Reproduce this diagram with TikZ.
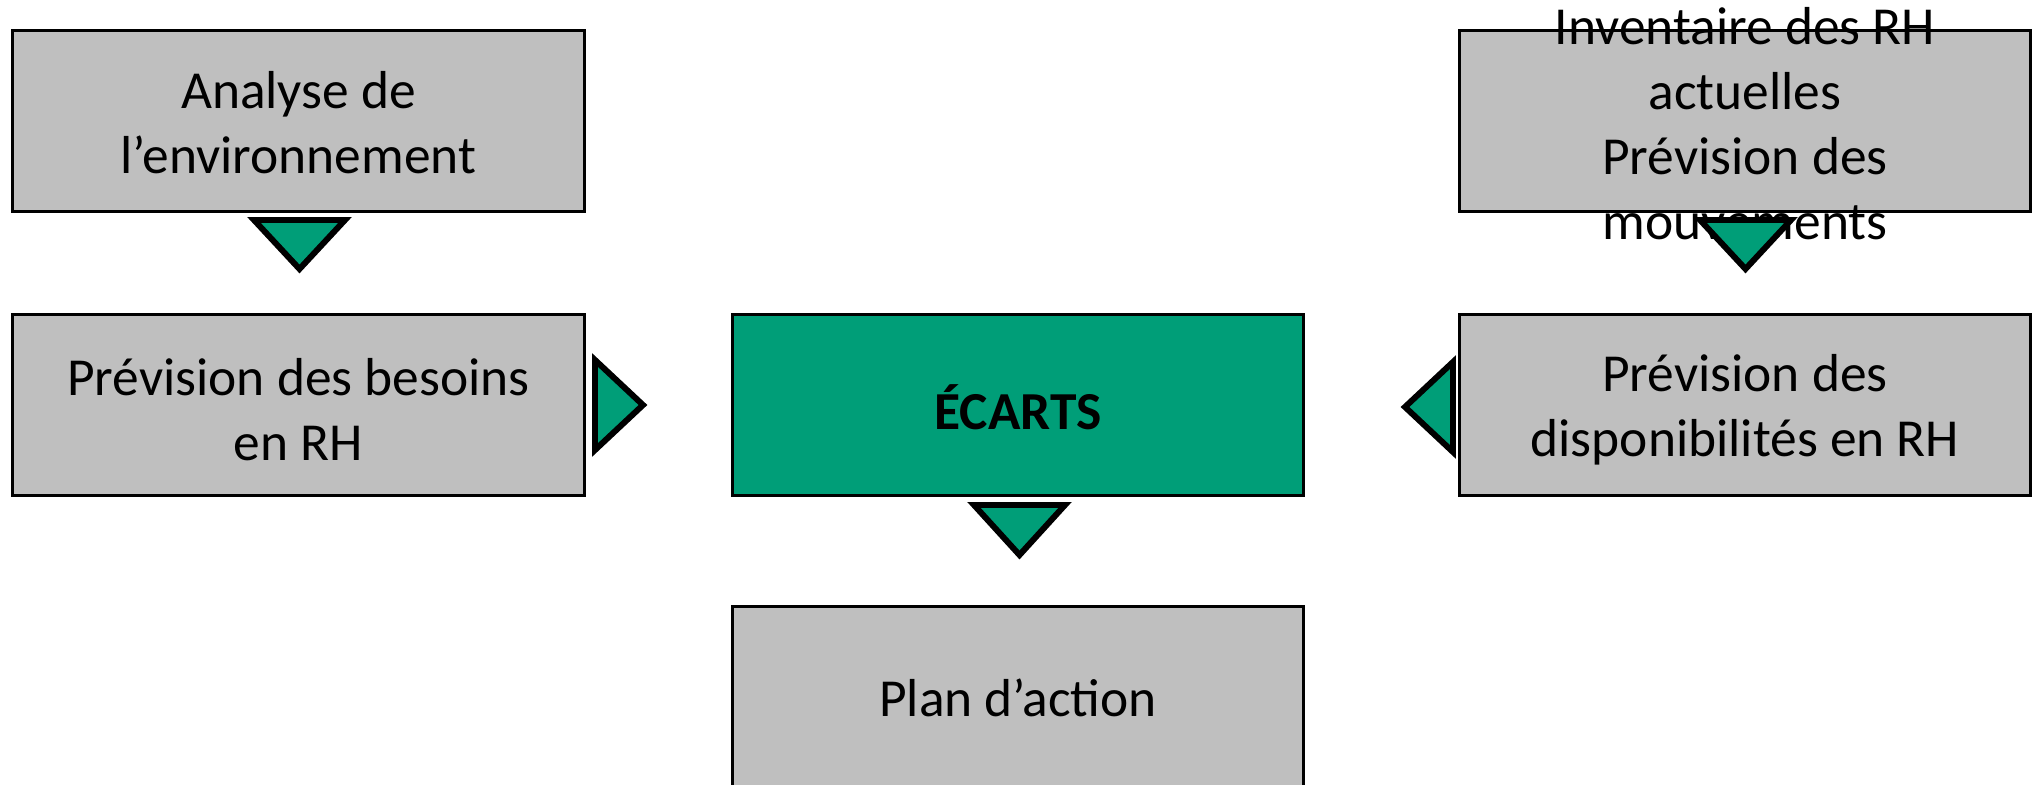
\documentclass[tikz,border=0pt]{standalone}
\usepackage{fontspec}
\setmainfont{Carlito}
\definecolor{boxgray}{RGB}{191,191,191}
\definecolor{ecgreen}{RGB}{0,158,120}
\begin{document}
\begin{tikzpicture}[x=0.01cm,y=-0.01cm,
  box/.style={draw=black,line width=0.85pt,fill=boxgray,minimum width=5.71cm,minimum height=1.80cm,
    inner sep=0pt,align=center,font=\fontsize{15.2}{18.5}\selectfont},
  greenbox/.style={box,fill=ecgreen,font=\fontsize{15.2}{18.5}\selectfont\bfseries},
  txt/.style={inner sep=0pt,align=center,font=\fontsize{15.2}{18.5}\selectfont},
  tri/.style={draw=black,fill=ecgreen,line width=1.7pt,line join=miter}]
\useasboundingbox (0,0) rectangle (2041,785);
\fill[white] (0,0) rectangle (2041,785);
\node[box] (env) at (298.5,121) {};
\node[txt] (envt) at (298.5,123) {Analyse de\\l’environnement};
\node[box] (bes) at (298.5,405) {};
\node[txt] (best) at (298.5,410) {Prévision des besoins\\en RH};
\node[greenbox] (eca) at (1018,405) {};
\node[txt,font=\fontsize{15.2}{18.5}\selectfont\bfseries] (ecat) at (1018,407) {ÉCARTS};
\node[box] (plan) at (1018,697) {};
\node[txt] (plant) at (1018,698) {Plan d’action};
\node[box] (inv) at (1745,121) {};
\node[txt] (invt) at (1745,124) {Inventaire des RH\\actuelles\\Prévision des\\mouvements};
\node[box] (dis) at (1745,405) {};
\node[txt] (dist) at (1745,410) {Prévision des\\disponibilités en RH};
% triangles
\draw[tri] (254,220) -- (345,220) -- (299.5,269) -- cycle;
\draw[tri] (1700,220) -- (1791,220) -- (1745.5,269) -- cycle;
\draw[tri] (974,505) -- (1065,505) -- (1019.5,555) -- cycle;
\draw[tri] (595,360) -- (595,450) -- (643,405) -- cycle;
\draw[tri] (1453,362) -- (1453,452) -- (1405,407) -- cycle;
\end{tikzpicture}
\end{document}
